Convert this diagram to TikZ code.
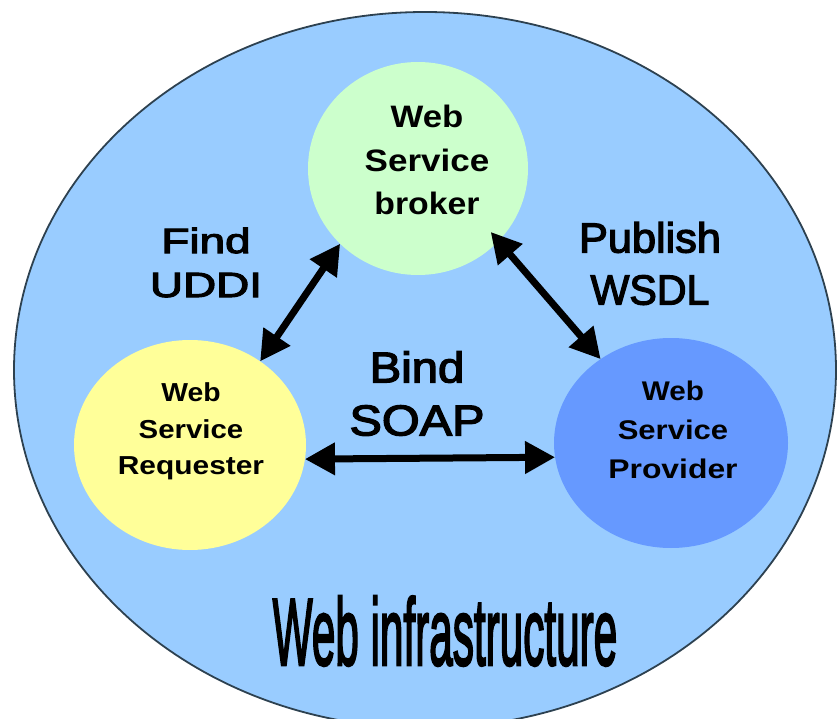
\documentclass[tikz,border=0pt]{standalone}
\usepackage{fontspec}
\setmainfont{Liberation Sans}
% a slightly heavier regular face for the connector labels and caption
\newfontfamily\heavyface[FakeBold=3]{Liberation Sans}
\usetikzlibrary{arrows.meta,shapes.geometric}

\definecolor{infrablue}{RGB}{153,204,255}
\definecolor{rimgray}{RGB}{45,65,80}
\definecolor{brokergreen}{RGB}{204,255,204}
\definecolor{requesteryellow}{RGB}{255,255,153}
\definecolor{providerblue}{RGB}{102,153,255}

% horizontal squeeze / stretch of a line of text
\newcommand{\hsq}[2]{\scalebox{#1}[1]{#2}}

\tikzset{
  bubble/.style={ellipse, draw=none, inner sep=0pt, outer sep=0pt},
  lbl/.style={inner sep=0pt, outer sep=0pt, align=center, text=black},
  dblarrow/.style={line width=7pt, draw=black,
    {Triangle[length=30pt,width=31pt]}-{Triangle[length=30pt,width=31pt]}},
}

\begin{document}
\begin{tikzpicture}[x=1pt,y=-1pt]
  \useasboundingbox (0,0) rectangle (838,719);
  \clip (0,0) rectangle (838,719);

  % the surrounding web infrastructure
  \node[bubble, fill=infrablue, draw=rimgray, line width=1.8pt,
        minimum width=822pt, minimum height=716pt] (infra) at (425,370) {};

  % the three parties
  \node[bubble, fill=brokergreen, minimum width=220pt, minimum height=213pt]
        (brk) at (418,168.5) {};
  \node[bubble, fill=requesteryellow, minimum width=232pt, minimum height=210pt]
        (req) at (190,445) {};
  \node[bubble, fill=providerblue, minimum width=234pt, minimum height=210pt]
        (prov) at (671,443) {};

  % texts inside the circles
  \node[lbl, font=\bfseries\fontsize{31}{43.5}\selectfont] (brktext) at (427,160)
        {\hsq{1.12}{Web}\\ \hsq{1.13}{Service}\\ \hsq{1.09}{broker}};
  \node[lbl, font=\bfseries\fontsize{26}{36.5}\selectfont] (reqtext) at (191,431.5)
        {\hsq{1.09}{Web}\\ \hsq{1.13}{Service}\\ \hsq{1.15}{Requester}};
  \node[lbl, font=\bfseries\fontsize{27}{39}\selectfont] (provtext) at (673,430)
        {\hsq{1.1}{Web}\\ \hsq{1.15}{Service}\\ \hsq{1.18}{Provider}};

  % connectors
  \draw[dblarrow] (req.50) -- (brk.224);
  \draw[dblarrow, shorten <=-12pt] (brk.318) -- (prov.130);
  \draw[dblarrow] (req.-7) -- (prov.187);

  % connector labels
  \node[lbl, font=\heavyface\fontsize{35}{44}\selectfont] (findlbl) at (206,262.5)
        {\hsq{1.31}{Find}\\ \hsq{1.31}{UDDI}};
  \node[lbl, font=\heavyface\fontsize{43}{53}\selectfont] (bindlbl) at (417,393.5)
        {\hsq{1.1}{Bind}\\ \hsq{1.13}{SOAP}};
  \node[lbl, font=\heavyface\fontsize{42}{52}\selectfont] (publbl) at (650,263.5)
        {\hsq{1.03}{Publish}\\ \hsq{0.98}{WSDL}};

  % caption at the bottom
  \node[lbl, anchor=base, font=\heavyface\fontsize{95}{100}\selectfont] (infralbl)
        at (445,665) {\hsq{0.445}{Web infrastructure}};
\end{tikzpicture}
\end{document}
